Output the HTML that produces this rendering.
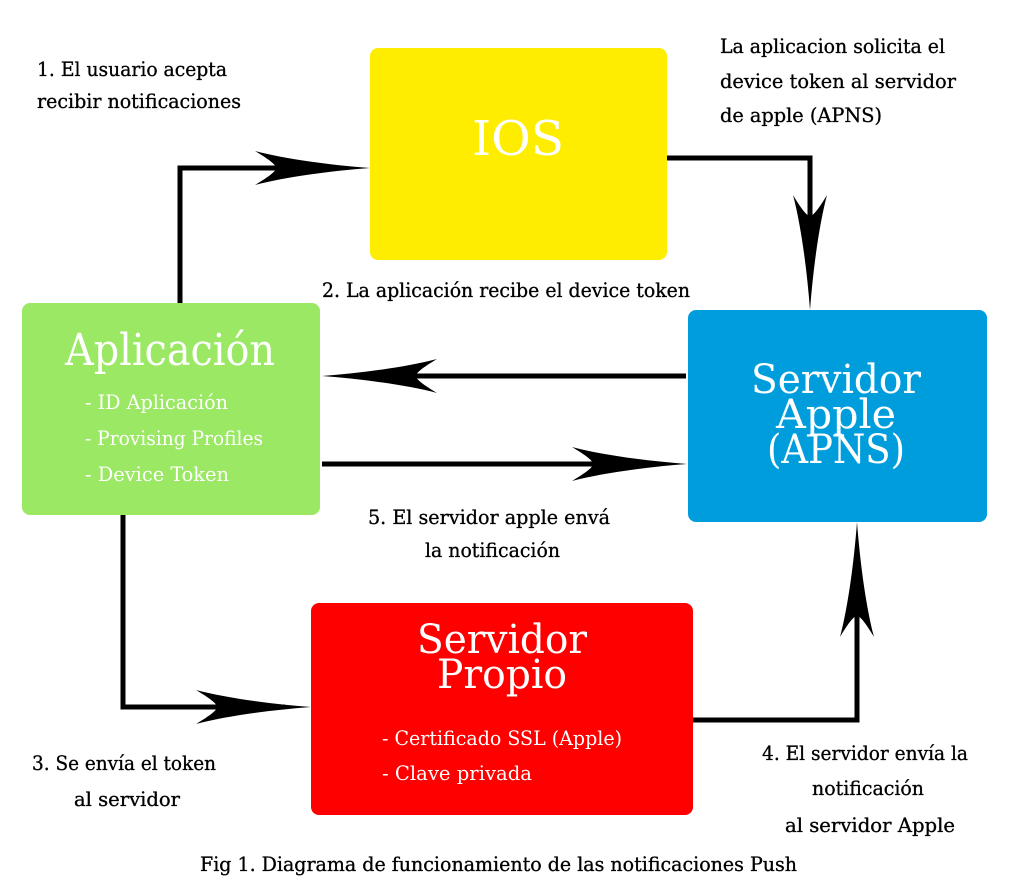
<!DOCTYPE html>
<html><head><meta charset="utf-8"><style>
html,body{margin:0;padding:0;background:#fff;}
svg{display:block;}
text{font-family:"DejaVu Serif Condensed","DejaVu Serif","Liberation Serif",serif;}
</style></head><body>
<svg width="1024" height="896" viewBox="0 0 1024 896" xmlns="http://www.w3.org/2000/svg">
<defs>
<path id="ah" d="M0 0 C-40 -3 -85 -9 -115 -17 C-100 -8 -94 -3 -94 0 C-94 3 -100 8 -115 17 C-85 9 -40 3 0 0Z" fill="#000"/>
</defs>
<rect x="370" y="48" width="297" height="212" rx="8" fill="#ffed00"/>
<rect x="22" y="303" width="298" height="212" rx="8" fill="#9be864"/>
<rect x="688" y="310" width="299" height="212" rx="8" fill="#009ddd"/>
<rect x="311" y="603" width="382" height="212" rx="8" fill="#ff0000"/>
<g stroke="#000" stroke-width="5" fill="none">
<polyline points="180,303 180,168 340,168"/>
<polyline points="667,158 810,158 810,280"/>
<line x1="686" y1="376" x2="350" y2="376"/>
<line x1="322" y1="464" x2="660" y2="464"/>
<polyline points="123,515 123,707 285,707"/>
<polyline points="693,720 857,720 857,550"/>
</g>
<use href="#ah" transform="translate(370,168)"/>
<use href="#ah" transform="translate(810,310) rotate(90)"/>
<use href="#ah" transform="translate(322,376) rotate(180)"/>
<use href="#ah" transform="translate(687,464)"/>
<use href="#ah" transform="translate(311,707)"/>
<use href="#ah" transform="translate(857,522) rotate(-90)"/>
<g fill="#fff" text-anchor="middle">
<text x="518" y="155" font-size="48" textLength="92" lengthAdjust="spacingAndGlyphs">IOS</text>
<text x="170" y="365" font-size="44" textLength="210" lengthAdjust="spacingAndGlyphs">Aplicación</text>
<text x="836" y="393" font-size="40" textLength="170" lengthAdjust="spacingAndGlyphs">Servidor</text>
<text x="836" y="428" font-size="40" textLength="120" lengthAdjust="spacingAndGlyphs">Apple</text>
<text x="836" y="463" font-size="40" textLength="138" lengthAdjust="spacingAndGlyphs">(APNS)</text>
<text x="502" y="653" font-size="40" textLength="170" lengthAdjust="spacingAndGlyphs">Servidor</text>
<text x="502" y="688" font-size="40" textLength="130" lengthAdjust="spacingAndGlyphs">Propio</text>
</g>
<g fill="#fff" font-size="20">
<text x="85" y="409" textLength="143" lengthAdjust="spacingAndGlyphs">- ID Aplicación</text>
<text x="85" y="445" textLength="178" lengthAdjust="spacingAndGlyphs">- Provising Profiles</text>
<text x="85" y="481" textLength="144" lengthAdjust="spacingAndGlyphs">- Device Token</text>
<text x="382" y="745" textLength="240" lengthAdjust="spacingAndGlyphs">- Certificado SSL (Apple)</text>
<text x="382" y="780" textLength="150" lengthAdjust="spacingAndGlyphs">- Clave privada</text>
</g>
<g fill="#000" font-size="20" stroke="#000" stroke-width="0.3">
<text x="37" y="76" textLength="190" lengthAdjust="spacingAndGlyphs">1. El usuario acepta</text>
<text x="37" y="108" textLength="204" lengthAdjust="spacingAndGlyphs">recibir notificaciones</text>
<text x="720" y="53" textLength="225" lengthAdjust="spacingAndGlyphs">La aplicacion solicita el</text>
<text x="720" y="88" textLength="236" lengthAdjust="spacingAndGlyphs">device token al servidor</text>
<text x="720" y="122" textLength="162" lengthAdjust="spacingAndGlyphs">de apple (APNS)</text>
<text x="322" y="297" textLength="368" lengthAdjust="spacingAndGlyphs">2. La aplicación recibe el device token</text>
<text x="368" y="524" textLength="242" lengthAdjust="spacingAndGlyphs">5. El servidor apple envá</text>
<text x="425" y="557" textLength="135" lengthAdjust="spacingAndGlyphs">la notificación</text>
<text x="32" y="770" textLength="184" lengthAdjust="spacingAndGlyphs">3. Se envía el token</text>
<text x="74" y="806" textLength="106" lengthAdjust="spacingAndGlyphs">al servidor</text>
<text x="762" y="760" textLength="206" lengthAdjust="spacingAndGlyphs">4. El servidor envía la</text>
<text x="812" y="795" textLength="112" lengthAdjust="spacingAndGlyphs">notificación</text>
<text x="785" y="832" textLength="170" lengthAdjust="spacingAndGlyphs">al servidor Apple</text>
<text x="200" y="871" textLength="597" lengthAdjust="spacingAndGlyphs">Fig 1. Diagrama de funcionamiento de las notificaciones Push</text>
</g>
</svg>
</body></html>
